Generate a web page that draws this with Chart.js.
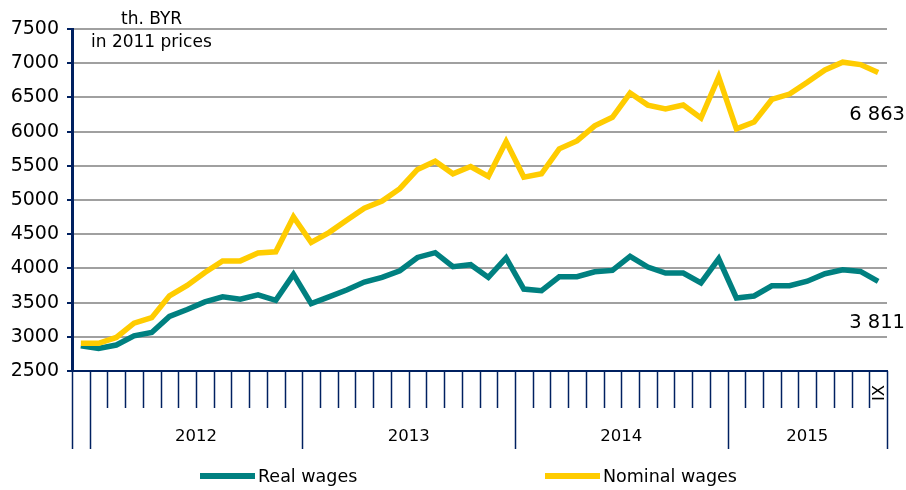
<!DOCTYPE html>
<html>
<head>
<meta charset="utf-8">
<script src="https://cdn.jsdelivr.net/npm/chart.js@4.4.0/dist/chart.umd.min.js"></script>
<style>
  html, body { margin: 0; padding: 0; background: #fff; }
  #wrap { width: 906px; height: 490px; }
</style>
</head>
<body>
<div id="wrap"><canvas id="wagesChart" width="906" height="490"></canvas></div>
<script>
// Monthly wages, XII 2011 - IX 2015
const months = ['XII',
  'I','II','III','IV','V','VI','VII','VIII','IX','X','XI','XII',
  'I','II','III','IV','V','VI','VII','VIII','IX','X','XI','XII',
  'I','II','III','IV','V','VI','VII','VIII','IX','X','XI','XII',
  'I','II','III','IV','V','VI','VII','VIII','IX'];
const years = ['2012', '2013', '2014', '2015'];

const realWages = [2870, 2830, 2880, 3015, 3064, 3297, 3400, 3510, 3584, 3550, 3612, 3534, 3913,
  3485, 3583, 3684, 3800, 3869, 3966, 4160, 4230, 4024, 4054, 3868, 4152,
  3698, 3675, 3878, 3878, 3950, 3971, 4175, 4019, 3932, 3932, 3787, 4141,
  3568, 3597, 3745, 3748, 3813, 3922, 3980, 3956, 3811];
const nominalWages = [2905, 2905, 2990, 3200, 3280, 3600, 3750, 3940, 4110, 4110, 4224, 4243, 4752,
  4379, 4524, 4704, 4879, 4985, 5165, 5447, 5568, 5383, 5490, 5345, 5854,
  5335, 5383, 5748, 5864, 6085, 6209, 6563, 6388, 6330, 6388, 6199, 6801,
  6039, 6141, 6470, 6549, 6721, 6902, 7015, 6980, 6863];

const navy = '#002060';
const teal = '#008080';
const gold = '#FFCC00';
const fontFamily = '"DejaVu Sans", Verdana, sans-serif';

// month ticks, year labels, end values, unit note and legend
const decorations = {
  id: 'decorations',
  afterDraw(chart) {
    const ctx = chart.ctx;
    const x = chart.scales.x;
    const step = x.getPixelForValue(1) - x.getPixelForValue(0);
    const base = x.top;
    ctx.save();

    // month / year separators
    ctx.strokeStyle = navy;
    ctx.lineWidth = 1.5;
    const yearEdges = [0];
    for (let i = 0; i <= months.length; i++) {
      const px = Math.round(x.getPixelForValue(i) - step / 2) + 0.5;
      const isYear = i === 0 || i === months.length || months[i] === 'I';
      if (isYear && i > 0) yearEdges.push(i);
      ctx.beginPath();
      ctx.moveTo(px, base);
      ctx.lineTo(px, isYear ? 449 : 408);
      ctx.stroke();
    }

    // year labels centred under their months
    ctx.fillStyle = '#000';
    ctx.font = '16.5px ' + fontFamily;
    ctx.textAlign = 'center';
    ctx.textBaseline = 'middle';
    for (let k = 1; k < yearEdges.length; k++) {
      const a = x.getPixelForValue(yearEdges[k]) - step / 2;
      const b = k === 1 ? x.getPixelForValue(yearEdges[0]) - step / 2 : null;
      const from = x.getPixelForValue(yearEdges[k]) - step / 2;
      const to = k + 1 < yearEdges.length ? x.getPixelForValue(yearEdges[k + 1]) - step / 2 : x.right;
      if (k <= years.length) ctx.fillText(years[k - 1], (from + to) / 2, 437);
    }

    // last month, rotated
    const last = months.length - 1;
    ctx.save();
    ctx.translate(x.getPixelForValue(last) + 2, 393);
    ctx.rotate(-Math.PI / 2);
    ctx.font = '16.5px ' + fontFamily;
    ctx.fillText(months[last], 0, 0);
    ctx.restore();

    // end-of-series values
    ctx.font = '19.5px ' + fontFamily;
    ctx.textAlign = 'right';
    chart.data.datasets.forEach((ds, di) => {
      const pt = chart.getDatasetMeta(di).data[ds.data.length - 1];
      const v = ds.data[ds.data.length - 1];
      const txt = String(v).replace(/\B(?=(\d{3})+(?!\d))/g, ' ');
      ctx.fillText(txt, 905, pt.y + 42);
    });

    // unit note
    ctx.textAlign = 'left';
    ctx.textBaseline = 'alphabetic';
    ctx.font = '17px ' + fontFamily;
    ctx.fillText('th. BYR', 121, 24);
    ctx.fillText('in 2011 prices', 91, 47);

    // legend
    ctx.textBaseline = 'middle';
    ctx.font = '17.5px ' + fontFamily;
    const items = [
      { label: 'Real wages', color: teal, x: 200 },
      { label: 'Nominal wages', color: gold, x: 545 }
    ];
    items.forEach(it => {
      ctx.fillStyle = it.color;
      ctx.fillRect(it.x, 473, 55, 6);
      ctx.fillStyle = '#000';
      ctx.fillText(it.label, it.x + 58, 477);
    });
    ctx.restore();
  }
};

const ctx = document.getElementById('wagesChart').getContext('2d');
const wagesChart = new Chart(ctx, {
  type: 'line',
  data: {
    labels: months,
    datasets: [
      {
        label: 'Real wages',
        data: realWages,
        borderColor: teal,
        backgroundColor: teal,
        borderWidth: 5.5,
        pointRadius: 0,
        order: 2
      },
      {
        label: 'Nominal wages',
        data: nominalWages,
        borderColor: gold,
        backgroundColor: gold,
        borderWidth: 5.5,
        pointRadius: 0,
        order: 1
      }
    ]
  },
  options: {
    responsive: false,
    animation: false,
    layout: { padding: { left: 0, right: 19, top: 29, bottom: 0 } },
    plugins: {
      legend: { display: false },
      tooltip: { enabled: false }
    },
    scales: {
      x: {
        offset: true,
        grid: { display: false },
        border: { color: navy, width: 2 },
        ticks: { display: false },
        afterFit(scale) { scale.height = 119; }
      },
      y: {
        min: 2500,
        max: 7500,
        ticks: {
          stepSize: 500,
          color: '#000',
          padding: 8,
          font: { family: fontFamily, size: 19 },
          callback: v => String(v)
        },
        grid: { color: '#a0a0a0', lineWidth: 2, tickColor: navy, tickLength: 5 },
        border: { color: navy, width: 3 },
        afterFit(scale) { scale.width = 72; }
      }
    }
  },
  plugins: [decorations]
});
</script>
</body>
</html>
